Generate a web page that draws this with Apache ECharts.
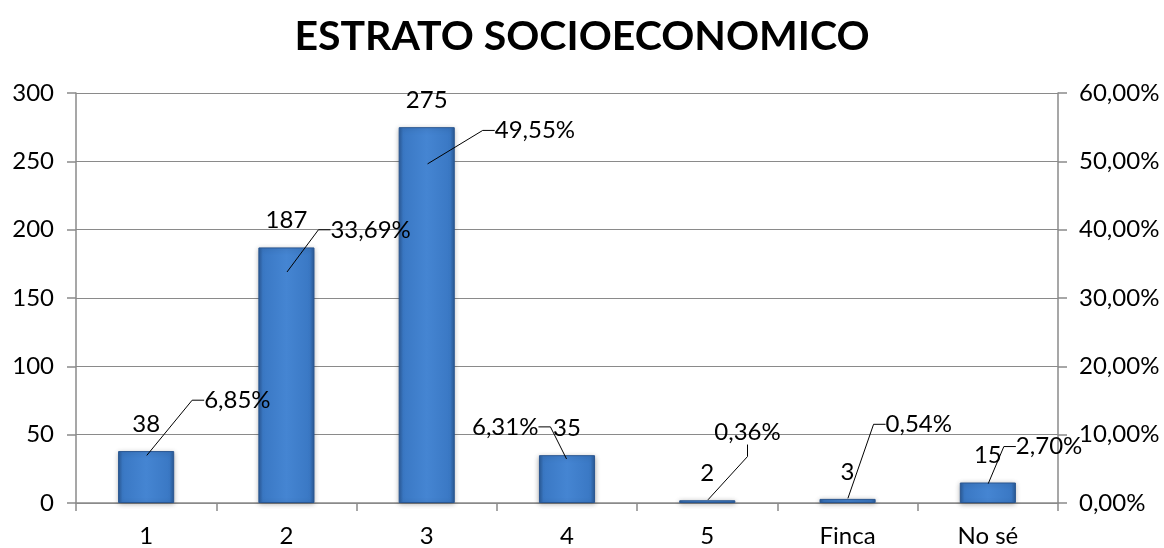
<!DOCTYPE html>
<html>
<head>
<meta charset="utf-8">
<script src="https://cdn.jsdelivr.net/npm/echarts@6/dist/echarts.min.js"></script>
<style>html,body{margin:0;padding:0;background:#fff;}#c{width:1164px;height:548px;}</style>
</head>
<body>
<div id="c"></div>
<script>
const titleText = 'ESTRATO SOCIOECONOMICO';
const categories = ['1', '2', '3', '4', '5', 'Finca', 'No sé'];
const counts = [38, 187, 275, 35, 2, 3, 15];
const percents = [6.85, 33.69, 49.55, 6.31, 0.36, 0.54, 2.70];
const leftTicks = { min: 0, max: 300, interval: 50 };
const rightTicks = { min: 0, max: 60, interval: 10 };
// label offsets for the percentage call-outs (dx, dy relative to default position)
const pctLabelOffsets = [[52, -56], [38, -43], [62, -34], [-101, -33], [1, -68], [32, -75], [22, -38]];

const FONT = 'Lato';
const fmtPct = v => v.toFixed(2).replace('.', ',') + '%';

const chart = echarts.init(document.getElementById('c'));
chart.setOption({
  backgroundColor: '#fff',
  animation: false,
  title: {
    text: titleText,
    left: 'center',
    top: 11,
    textStyle: { fontFamily: FONT, fontWeight: 'bold', fontSize: 41, color: '#000' }
  },
  grid: { left: 76, right: 106, top: 93, bottom: 45 },
  xAxis: {
    type: 'category',
    data: categories,
    axisLine: { lineStyle: { color: '#8a8a8a', width: 1.5 } },
    axisTick: { show: true, length: 8, alignWithLabel: false, lineStyle: { color: '#8a8a8a', width: 1.5 } },
    axisLabel: { fontFamily: FONT, fontSize: 24, color: '#000', margin: 21 }
  },
  yAxis: [
    {
      type: 'value', min: leftTicks.min, max: leftTicks.max, interval: leftTicks.interval,
      axisLine: { show: true, lineStyle: { color: '#8a8a8a', width: 1.5 } },
      axisTick: { show: true, length: 9, lineStyle: { color: '#8a8a8a', width: 1.5 } },
      axisLabel: { fontFamily: FONT, fontSize: 24, color: '#000', margin: 22 },
      splitLine: { show: true, lineStyle: { color: '#8a8a8a', width: 1.2 } }
    },
    {
      type: 'value', min: rightTicks.min, max: rightTicks.max, interval: rightTicks.interval,
      position: 'right',
      axisLine: { show: true, lineStyle: { color: '#8a8a8a', width: 1.5 } },
      axisTick: { show: true, length: 9, lineStyle: { color: '#8a8a8a', width: 1.5 } },
      axisLabel: { fontFamily: FONT, fontSize: 24, color: '#000', margin: 21, formatter: v => fmtPct(v) },
      splitLine: { show: false }
    }
  ],
  series: [
    {
      type: 'bar',
      data: counts,
      barWidth: '40%',
      yAxisIndex: 0,
      itemStyle: {
        color: {
          type: 'linear', x: 0, y: 0, x2: 1, y2: 0,
          colorStops: [
            { offset: 0, color: '#2b5b98' },
            { offset: 0.08, color: '#3a78c4' },
            { offset: 0.5, color: '#4585d2' },
            { offset: 0.92, color: '#3a78c4' },
            { offset: 1, color: '#2b5b98' }
          ]
        },
        borderColor: '#2a5690',
        borderWidth: 1,
        shadowColor: 'rgba(0,0,0,0.3)',
        shadowBlur: 5,
        shadowOffsetY: 1
      },
      label: {
        show: true, position: 'top', distance: 15,
        fontFamily: FONT, fontSize: 24, color: '#000'
      },
      z: 2
    },
    {
      type: 'scatter',
      yAxisIndex: 1,
      data: percents,
      symbol: 'circle',
      symbolSize: 2,
      itemStyle: { color: 'rgba(0,0,0,0)', opacity: 1 },
      label: {
        show: true, position: 'right', distance: 5,
        fontFamily: FONT, fontSize: 24, color: '#000',
        formatter: p => fmtPct(p.value)
      },
      labelLine: { show: true, length2: 12, lineStyle: { color: '#000', width: 1, opacity: 1 } },
      labelLayout: p => ({ dx: pctLabelOffsets[p.dataIndex][0], dy: pctLabelOffsets[p.dataIndex][1] }),
      z: 5
    }
  ]
});
</script>
</body>
</html>
